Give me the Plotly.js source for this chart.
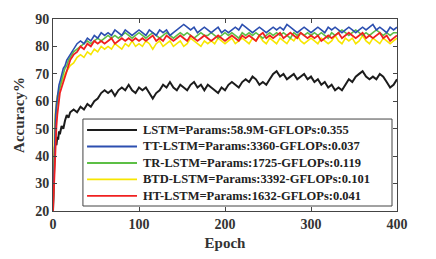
<!DOCTYPE html>
<html>
<head>
<meta charset="utf-8">
<script src="https://cdn.plot.ly/plotly-3.0.1.min.js"></script>
<style>html,body{margin:0;padding:0;background:#fff;}#chart{width:436px;height:259px;}</style>
</head>
<body>
<div id="chart"></div>
<script>
var epochs = [0,1,2,3,4,5,6,7,8,10,12,14,16,18,20,
24,28,32,36,40,44,48,52,56,60,
64,68,72,76,80,84,88,92,96,100,
104,108,112,116,120,124,128,132,136,140,
144,148,152,156,160,164,168,172,176,180,
184,188,192,196,200,204,208,212,216,220,
224,228,232,236,240,244,248,252,256,260,
264,268,272,276,280,284,288,292,296,300,
304,308,312,316,320,324,328,332,336,340,
344,348,352,356,360,364,368,372,376,380,
384,388,392,396,400];

var lstm = [20,38,43,45,44,47,46,49,48,51,50,53,55,54,56,
57,56,58,57,59,58,60,61,63,64,
63,64,62,64,65,64,66,64,63,65,
64,65,63,61,63,64,66,65,67,65,
64,66,65,64,66,67,65,66,64,66,
65,64,63,65,64,66,67,66,65,67,
68,67,69,68,66,67,66,68,70,71,
69,70,68,69,70,68,69,70,68,69,
67,68,66,67,65,66,64,65,64,66,
68,67,69,70,71,69,68,69,68,70,
69,67,65,66,68];

var ttLstm = [20,35,47,55,59,62,64,66,67,70,72,73,75,76,77,
79,81,82,81,83,82,84,83,85,84,
85,84,86,85,84,86,85,84,85,86,
85,84,86,85,84,86,85,86,84,85,
86,87,88,87,86,87,85,86,87,86,
85,86,87,85,86,85,86,87,86,88,
87,86,85,86,87,86,85,86,87,86,
87,86,88,87,86,85,86,87,86,85,
86,87,86,85,87,86,87,86,85,86,
87,86,85,86,87,86,87,88,86,87,
86,85,87,86,87];

var trLstm = [20,33,45,53,57,60,62,64,65,68,70,72,73,75,76,
78,79,80,81,82,81,82,83,82,83,
84,83,84,83,84,85,84,83,84,85,
84,83,84,85,84,83,84,85,84,83,
84,85,84,85,84,83,84,85,84,84,
85,84,83,84,85,84,85,84,83,85,
84,85,84,85,84,83,84,85,84,85,
84,85,84,83,85,84,85,84,85,84,
85,84,85,84,83,85,84,85,86,85,
84,85,86,85,84,85,84,85,86,85,
84,85,84,85,85];

var btdLstm = [20,40,52,57,60,62,63,64,65,67,68,70,71,72,73,
74,76,77,76,78,77,79,78,80,79,
80,79,81,80,79,81,80,82,80,81,
80,82,81,79,81,82,80,81,82,80,
81,82,80,81,83,82,81,80,82,81,
82,81,83,82,81,82,83,81,82,83,
82,81,83,82,84,82,81,83,82,81,
83,82,81,83,82,84,82,81,82,83,
82,81,83,82,81,82,84,82,81,83,
82,83,81,82,84,82,81,83,82,81,
83,82,81,82,83];

var htLstm = [20,28,38,46,51,55,58,61,63,65,67,69,71,73,75,
77,78,80,79,81,80,82,81,82,81,
82,83,81,82,83,82,83,82,83,82,
83,82,83,84,82,83,82,84,83,82,
83,84,83,82,84,83,82,83,84,83,
82,83,84,83,82,83,84,83,82,84,
83,84,83,82,84,85,83,84,83,84,
85,83,84,85,84,83,85,84,83,84,
83,84,82,83,84,83,84,85,83,84,
85,84,83,84,85,83,84,83,84,85,
83,84,82,83,84];

var names = [
  'LSTM=Params:58.9M-GFLOPs:0.355',
  'TT-LSTM=Params:3360-GFLOPs:0.037',
  'TR-LSTM=Params:1725-GFLOPs:0.119',
  'BTD-LSTM=Params:3392-GFLOPs:0.101',
  'HT-LSTM=Params:1632-GFLOPs:0.041'
];
var series = [lstm, ttLstm, trLstm, btdLstm, htLstm];
var colors = ['#1c1c1c', '#2c4fb0', '#5cbf45', '#f7e600', '#f02020'];
var widths = [2, 1.6, 1.6, 1.6, 1.8];

// draw order: yellow under others, as in the reference
var order = [0, 3, 2, 1, 4];
var traces = [];
order.forEach(function(i){
  traces.push({
    x: epochs, y: series[i], type: 'scatter', mode: 'lines',
    name: names[i], line: {color: colors[i], width: widths[i]},
    showlegend: false
  });
});

var fam = 'Liberation Serif, Times New Roman, serif';
var fnt = {family: fam, size: 14, color: '#333', weight: 'bold'};

// legend drawn as a boxed key (paper coordinates of the plot area)
var box = {x0: 0.087, x1: 0.9855, y0: 0.026, y1: 0.479};
var rowTop = 0.4219, rowStep = 0.0859;
var shapes = [{
  type: 'rect', xref: 'paper', yref: 'paper',
  x0: box.x0, x1: box.x1, y0: box.y0, y1: box.y1,
  fillcolor: '#fff', line: {color: '#444', width: 1}, layer: 'above'
}];
var annotations = [];
names.forEach(function(nm, i){
  var yy = rowTop - i * rowStep;
  shapes.push({
    type: 'line', xref: 'paper', yref: 'paper',
    x0: 0.099, x1: 0.2442, y0: yy, y1: yy,
    line: {color: colors[i], width: 1.8}, layer: 'above'
  });
  annotations.push({
    xref: 'paper', yref: 'paper', x: 0.255, y: yy,
    xanchor: 'left', yanchor: 'middle', showarrow: false,
    text: nm, font: {family: fam, size: 12.5, color: '#222', weight: 'bold'}
  });
});

var layout = {
  width: 436, height: 259,
  margin: {l: 53, r: 39, t: 19, b: 48},
  paper_bgcolor: '#fff', plot_bgcolor: '#fff',
  showlegend: false,
  shapes: shapes,
  annotations: annotations,
  xaxis: {
    range: [0, 400], dtick: 100, tick0: 0,
    ticks: 'inside', ticklen: 4, tickcolor: '#444',
    showline: true, linecolor: '#444', linewidth: 1, mirror: 'ticks',
    showgrid: false, zeroline: false,
    tickfont: fnt,
    title: {text: 'Epoch', font: {family: fam, size: 15, color: '#333', weight: 'bold'}, standoff: 6}
  },
  yaxis: {
    range: [20, 90], dtick: 10, tick0: 20,
    ticks: 'inside', ticklen: 4, tickcolor: '#444',
    showline: true, linecolor: '#444', linewidth: 1, mirror: 'ticks',
    showgrid: false, zeroline: false,
    tickfont: fnt,
    title: {text: 'Accuracy%', font: {family: fam, size: 15, color: '#333', weight: 'bold'}, standoff: 6}
  }
};

Plotly.newPlot('chart', traces, layout, {displayModeBar: false, staticPlot: true});
</script>
</body>
</html>
